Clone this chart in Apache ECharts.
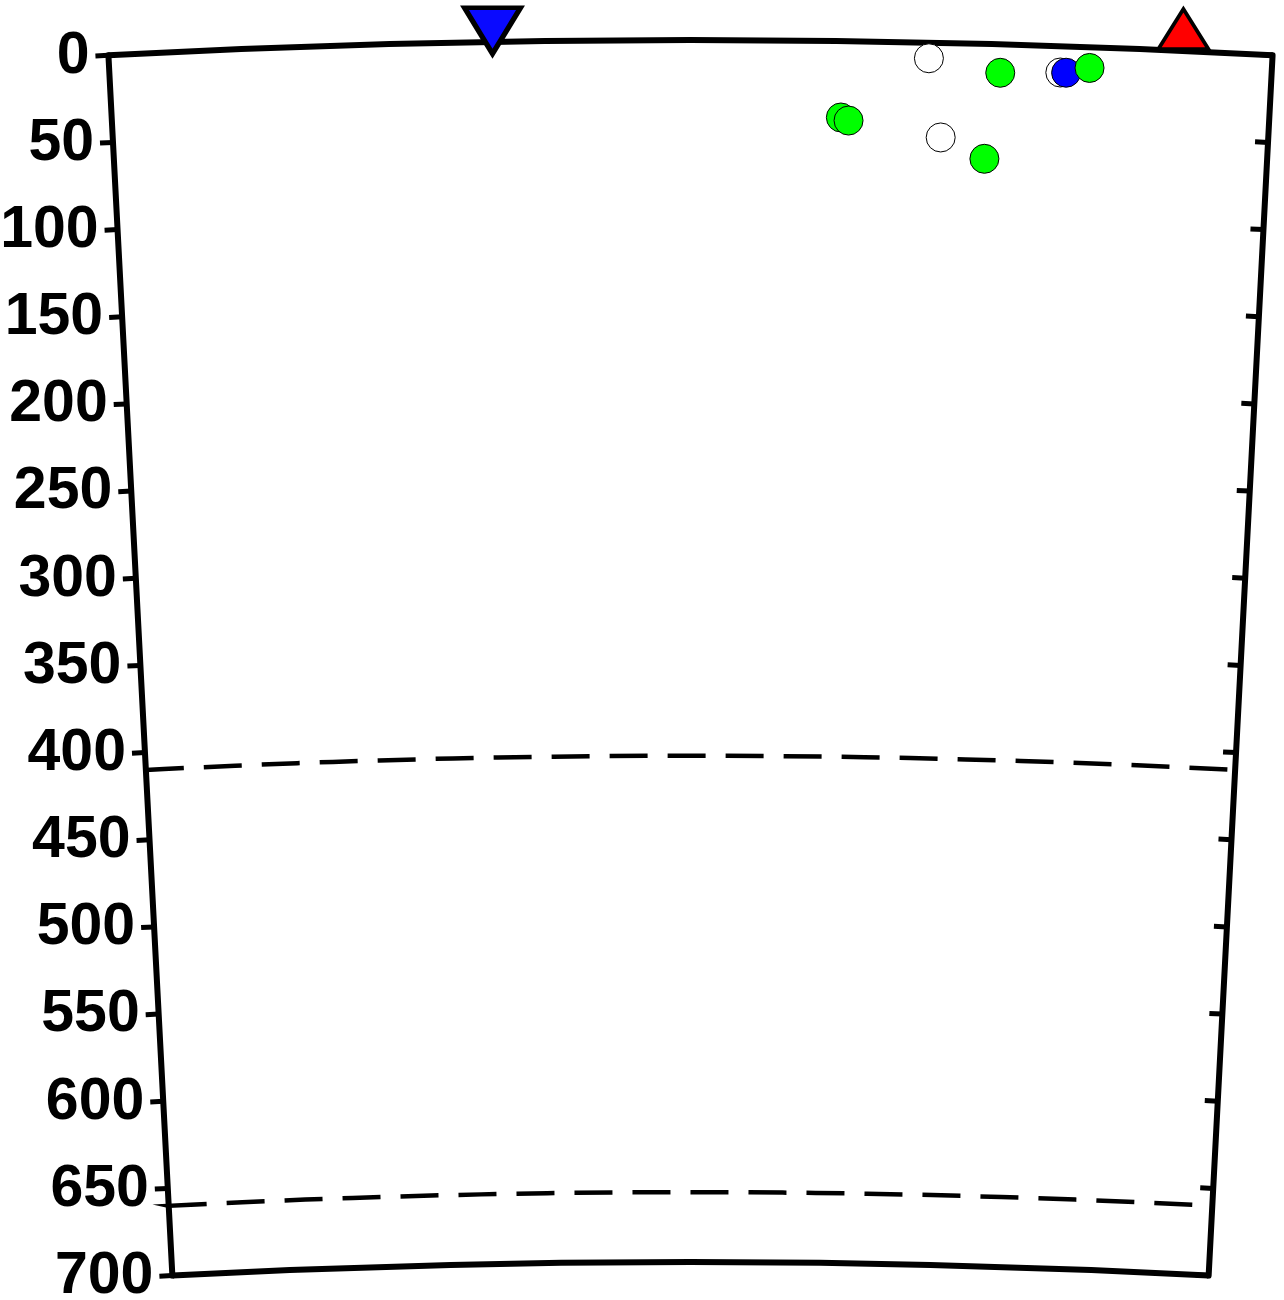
<!DOCTYPE html>
<html>
<head>
<meta charset="utf-8">
<script src="https://cdn.jsdelivr.net/npm/echarts@6/dist/echarts.min.js"></script>
<style>
html,body{margin:0;padding:0;background:#fff;}
#chart{width:1284px;height:1300px;}
</style>
</head>
<body>
<div id="chart"></div>
<script>
// Profile distance (degrees along section) and depth (km)
const DIST_MIN = 0, DIST_MAX = 6;
const DEPTH_MIN = 0, DEPTH_MAX = 700, DEPTH_STEP = 50;
const depthTicks = [0, 50, 100, 150, 200, 250, 300, 350, 400, 450, 500, 550, 600, 650, 700];

// Frame arcs (surface and bottom) and mantle discontinuities
const frameDepths = [0, 700];
const discontinuityDepths = [410, 660];

// Events: white (open) circles
const whiteDist = [4.23, 4.91, 4.30];
const whiteDepth = [9.0, 15.1, 54.2];
// Events: blue circles
const blueDist = [4.94];
const blueDepth = [15.1];
// Events: green circles
const greenDist = [4.60, 5.06, 3.78, 3.82, 4.53];
const greenDepth = [16.3, 11.9, 43.8, 45.5, 65.8];

// Section end markers at the surface
const startMarkerDist = [1.98];
const endMarkerDist = [5.54];

const pts = (depths, dists) => depths.map((d, i) => [d, dists[i]]);

const chart = echarts.init(document.getElementById('chart'), null, {renderer: 'canvas'});

const EARTH_R = 6371;
const R_OUT = 11122;
const R_IN = R_OUT * (EARTH_R - DEPTH_MAX) / EARTH_R;
const CENTER = [690.5, 40 + R_OUT];

function arcRender(width, dash) {
  return function (params, api) {
    const d = api.value(0);
    const cs = params.coordSys;
    const p0 = api.coord([d, DIST_MIN]);
    const p1 = api.coord([d, DIST_MAX]);
    const r = Math.hypot(p0[0] - cs.cx, p0[1] - cs.cy);
    const a0 = Math.atan2(p0[1] - cs.cy, p0[0] - cs.cx);
    const a1 = Math.atan2(p1[1] - cs.cy, p1[0] - cs.cx);
    return {
      type: 'arc',
      shape: {cx: cs.cx, cy: cs.cy, r: r, startAngle: a0, endAngle: a1, clockwise: true},
      style: {stroke: '#000', fill: null, lineWidth: width, lineDash: dash}
    };
  };
}

const axisLineStyle = {color: '#000', width: 6};
const tickStyle = {color: '#000', width: 5};

const option = {
  backgroundColor: '#fff',
  animation: false,
  polar: [
    {center: CENTER, radius: [R_IN, R_OUT]},
    {center: CENTER, radius: [R_IN, R_OUT]}
  ],
  angleAxis: [
    {polarIndex: 0, type: 'value', min: DIST_MIN, max: DIST_MAX, startAngle: 93, endAngle: 87, clockwise: true,
     axisLine: {show: false}, axisTick: {show: false}, axisLabel: {show: false}, splitLine: {show: false}},
    {polarIndex: 1, type: 'value', min: DIST_MIN, max: DIST_MAX, startAngle: 87, endAngle: 93, clockwise: false,
     axisLine: {show: false}, axisTick: {show: false}, axisLabel: {show: false}, splitLine: {show: false}}
  ],
  radiusAxis: [
    {polarIndex: 0, type: 'value', min: DEPTH_MIN, max: DEPTH_MAX, interval: DEPTH_STEP, inverse: true,
     axisLine: {show: true, lineStyle: axisLineStyle},
     axisTick: {show: true, length: 13, lineStyle: tickStyle},
     axisLabel: {show: true, margin: 19, fontSize: 59, fontWeight: 'bold', fontFamily: 'Liberation Sans, Arial, sans-serif', color: '#000',
       padding: [6, 0, 0, 0],
       formatter: v => depthTicks.indexOf(v) >= 0 ? String(v) : ''},
     splitLine: {show: false}},
    {polarIndex: 1, type: 'value', min: DEPTH_MIN, max: DEPTH_MAX, interval: DEPTH_STEP, inverse: true,
     axisLine: {show: true, lineStyle: axisLineStyle},
     axisTick: {show: true, inside: true, length: 13, lineStyle: tickStyle},
     axisLabel: {show: false},
     splitLine: {show: false}}
  ],
  series: [
    {type: 'custom', coordinateSystem: 'polar', polarIndex: 0, z: 3, silent: true,
     data: frameDepths.map(d => [d, DIST_MIN]), renderItem: arcRender(6, null)},
    {type: 'custom', coordinateSystem: 'polar', polarIndex: 0, z: 3, silent: true,
     data: discontinuityDepths.map(d => [d, DIST_MIN]), renderItem: arcRender(4.5, [38, 20])},
    {type: 'scatter', coordinateSystem: 'polar', polarIndex: 0, z: 4, symbol: 'circle', symbolSize: 29,
     itemStyle: {color: '#fff', borderColor: '#000', borderWidth: 1, opacity: 1},
     data: pts(whiteDepth, whiteDist)},
    {type: 'scatter', coordinateSystem: 'polar', polarIndex: 0, z: 4, symbol: 'circle', symbolSize: 29,
     itemStyle: {color: '#0000ff', borderColor: '#000', borderWidth: 1, opacity: 1},
     data: pts(blueDepth, blueDist)},
    {type: 'scatter', coordinateSystem: 'polar', polarIndex: 0, z: 4, symbol: 'circle', symbolSize: 29,
     itemStyle: {color: '#00ff00', borderColor: '#000', borderWidth: 1, opacity: 1},
     data: pts(greenDepth, greenDist)},
    {type: 'scatter', coordinateSystem: 'polar', polarIndex: 0, z: 5, symbol: 'triangle', symbolSize: [56, 46],
     symbolRotate: 180, symbolOffset: [0, -11],
     itemStyle: {color: '#0a0aff', borderColor: '#000', borderWidth: 5, opacity: 1},
     data: startMarkerDist.map(a => [0, a])},
    {type: 'scatter', coordinateSystem: 'polar', polarIndex: 0, z: 5, symbol: 'triangle', symbolSize: [50, 40],
     symbolOffset: [0, -22],
     itemStyle: {color: '#ff0000', borderColor: '#000', borderWidth: 3.5, opacity: 1},
     data: endMarkerDist.map(a => [0, a])}
  ]
};
chart.setOption(option);
</script>
</body>
</html>
